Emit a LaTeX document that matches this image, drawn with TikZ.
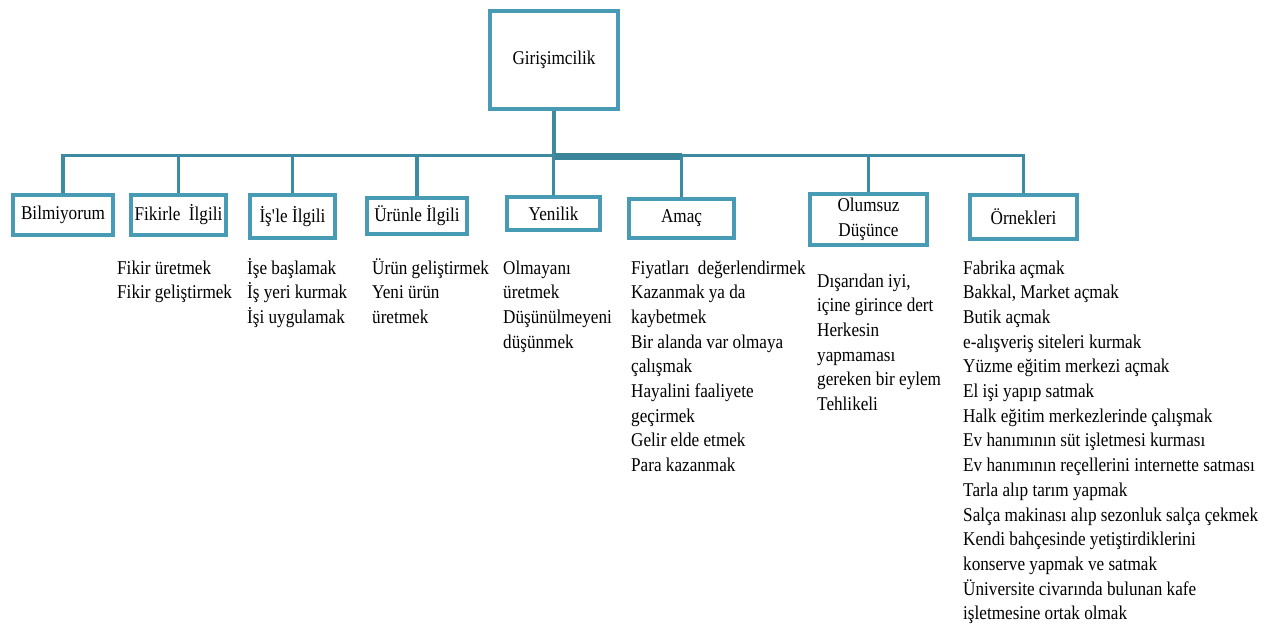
\documentclass[tikz,border=0pt]{standalone}
\usepackage{fontspec}
\setmainfont{Liberation Serif}[FakeStretch=0.88]
\definecolor{boxc}{RGB}{72,155,181}
\definecolor{linec}{RGB}{62,138,160}
\definecolor{busc}{RGB}{58,133,153}
\newcommand{\txt}{\fontsize{19.5}{24.7}\selectfont}
\newcommand{\items}[1]{\begin{tabular}[t]{@{}l@{}}#1\end{tabular}}
\begin{document}
\begin{tikzpicture}[x=1pt,y=-1pt,
  box/.style={draw=boxc, line width=4pt, fill=white, inner sep=0pt,
    align=center, font=\txt},
  conn/.style={draw=linec, line width=3.5pt},
  mainbus/.style={draw=busc, line width=7pt},
  itemlist/.style={anchor=base west, inner sep=0pt, font=\txt}]
\useasboundingbox (0,0) rectangle (1274,625);

% root
\node[box, minimum width=128pt, minimum height=98pt] (top) at (554,60) {Girişimcilik};

% first level
\node[box, minimum width=100pt, minimum height=40pt] (bil)  at (63,215)    {Bilmiyorum};
\node[box, minimum width=95pt,  minimum height=40pt] (fik)  at (178.5,215) {Fikirle~ İlgili};
\node[box, minimum width=85pt,  minimum height=43pt] (isl)  at (292.5,216.5) {İş\textquotesingle le İlgili};
\node[box, minimum width=100pt, minimum height=36pt] (uru)  at (417,216)   {Ürünle İlgili};
\node[box, minimum width=93pt,  minimum height=33pt] (yen)  at (553.5,213.5) {Yenilik};
\node[box, minimum width=105pt, minimum height=39pt] (ama)  at (681.5,218.5) {Amaç};
\node[box, minimum width=117pt, minimum height=51pt] (olu)  at (868.5,219.5) {Olumsuz\\Düşünce};
\node[box, minimum width=107pt, minimum height=44pt] (orn)  at (1023.5,217) {Örnekleri};

% bus and connectors
\coordinate (bus) at (0,155.5);
\coordinate (busT) at (0,156);
\draw[conn] (top.south) -- (top.south |- bus);
\draw[conn, line cap=rect] (bil.north |- bus) -- (orn.north |- bus);
\draw[mainbus] (top.south |- busT) -- (ama.north |- busT);
\foreach \n in {bil,fik,isl,uru,yen,ama,olu,orn}
  \draw[conn] (\n.north |- bus) -- (\n.north);

% item lists
\node[itemlist] (lfik) at (117,274) {\items{Fikir üretmek\\Fikir geliştirmek}};
\node[itemlist] (lisl) at (247,274) {\items{İşe başlamak\\İş yeri kurmak\\İşi uygulamak}};
\node[itemlist] (luru) at (372,274) {\items{Ürün geliştirmek\\Yeni ürün\\üretmek}};
\node[itemlist] (lyen) at (503,274) {\items{Olmayanı\\üretmek\\Düşünülmeyeni\\düşünmek}};
\node[itemlist] (lama) at (631,274) {\items{Fiyatları~ değerlendirmek\\Kazanmak ya da\\kaybetmek\\Bir alanda var olmaya\\çalışmak\\Hayalini faaliyete\\geçirmek\\Gelir elde etmek\\Para kazanmak}};
\node[itemlist] (lolu) at (817,287) {\items{Dışarıdan iyi,\\içine girince dert\\Herkesin\\yapmaması\\gereken bir eylem\\Tehlikeli}};
\node[itemlist] (lorn) at (963,274) {\items{Fabrika açmak\\Bakkal, Market açmak\\Butik açmak\\e-alışveriş siteleri kurmak\\Yüzme eğitim merkezi açmak\\El işi yapıp satmak\\Halk eğitim merkezlerinde çalışmak\\Ev hanımının süt işletmesi kurması\\Ev hanımının reçellerini internette satması\\Tarla alıp tarım yapmak\\Salça makinası alıp sezonluk salça çekmek\\Kendi bahçesinde yetiştirdiklerini\\konserve yapmak ve satmak\\Üniversite civarında bulunan kafe\\işletmesine ortak olmak}};
\end{tikzpicture}
\end{document}
